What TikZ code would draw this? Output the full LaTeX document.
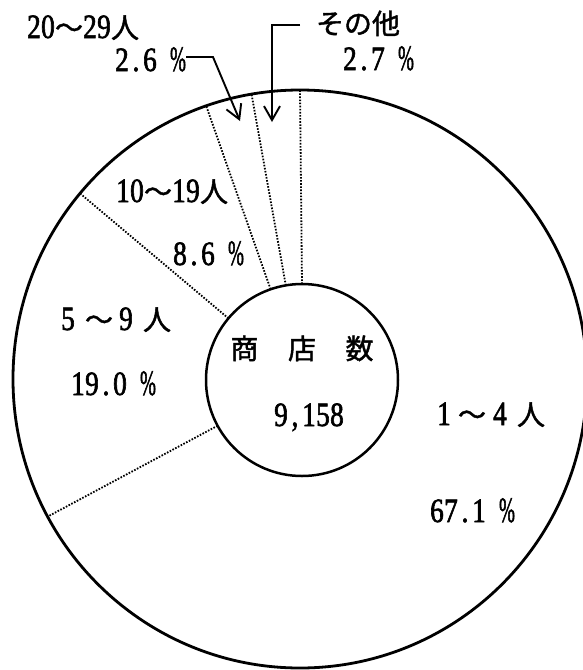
\documentclass[tikz,border=0pt]{standalone}
\usepackage{fontspec}
\usepackage{graphicx}
\usetikzlibrary{arrows.meta}
\newfontfamily\jpf[FakeBold=1.4]{Noto Sans CJK JP}
\newfontfamily\dgf[FakeStretch=0.8,FakeBold=1.8]{Liberation Serif}
\newcommand\dgt[1]{\makebox[14pt]{\fontsize{34pt}{36pt}\selectfont\dgf #1}}
\newcommand\jch[1]{\makebox[28pt]{\fontsize{28pt}{30pt}\selectfont\jpf #1}}
\newcommand\pct{\makebox[14pt]{\fontsize{34pt}{36pt}\selectfont\dgf\scalebox{0.7}[1.05]{\%}}}
\tikzset{
  lbl/.style={anchor=base, inner sep=0pt, outer sep=0pt},
  rim/.style={line width=2.8pt},
  hub/.style={line width=2.5pt, fill=white},
  sep/.style={line width=1.8pt, dash pattern=on 1.6pt off 1.5pt},
  leader/.style={line width=1.9pt, -{Straight Barb[length=14pt,width=16pt,line width=1.9pt]}}
}
\begin{document}
\begin{tikzpicture}[x=1pt,y=-1pt]
\path[use as bounding box, fill=white] (0,0) rectangle (582,670);
% radial separators
\foreach \n/\a in {s1/90, s2/99.72, s3/109.08, s4/140.04, s5/208.44}{
  \coordinate (o\n) at ({300+287*cos(\a)},{379-289*sin(\a)});
  \coordinate (i\n) at ({302+96*cos(\a)},{380-96*sin(\a)});
  \draw[sep] (i\n) -- (o\n);
}
\draw[rim] (300,379) ellipse [x radius=287pt, y radius=289pt];
\draw[hub] (302,380) circle [radius=96pt];
% labels
\node[lbl] (n2029) at (83,38) {\dgt{2}\dgt{0}\jch{〜}\dgt{2}\dgt{9}\jch{人}};
\node[lbl] (p26) at (150,71) {\dgt{2}\dgt{.}\dgt{6}\hspace{14pt}\pct};
\node[lbl] (sonota) at (358,34) {\jch{そ}\jch{の}\jch{他}};
\node[lbl] (p27) at (378,70) {\dgt{2}\dgt{.}\dgt{7}\hspace{14pt}\pct};
\node[lbl] (n1019) at (172,202) {\dgt{1}\dgt{0}\jch{〜}\dgt{1}\dgt{9}\jch{人}};
\node[lbl] (p86) at (208,265) {\dgt{8}\dgt{.}\dgt{6}\hspace{14pt}\pct};
\node[lbl] (n59) at (116,330) {\dgt{5}\hspace{10pt}\jch{〜}\hspace{6pt}\dgt{9}\hspace{10pt}\jch{人}};
\node[lbl] (p190) at (113,395) {\dgt{1}\dgt{9}\dgt{.}\dgt{0}\hspace{14pt}\pct};
\node[lbl] (shoten) at (302,359) {\jch{商}\hspace{29.5pt}\jch{店}\hspace{29.5pt}\jch{数}};
\node[lbl] (n9158) at (309,426) {\dgt{9}\dgt{,}\dgt{1}\dgt{5}\dgt{8}};
\node[lbl] (n14) at (491,425) {\dgt{1}\hspace{7pt}\jch{〜}\hspace{7pt}\dgt{4}\hspace{10pt}\jch{人}};
\node[lbl] (p671) at (472,522) {\dgt{6}\dgt{7}\dgt{.}\dgt{1}\hspace{14pt}\pct};
% leaders
\coordinate (a1s) at (186,57);
\coordinate (a1k) at (213,57);
\coordinate (a1t) at (240,121);
\draw[leader] (a1s) -- (a1k) -- (a1t);
\coordinate (a2s) at (300,25);
\coordinate (a2k) at (272,25);
\coordinate (a2t) at (272,122);
\draw[leader] (a2s) -- (a2k) -- (a2t);
\end{tikzpicture}
\end{document}
